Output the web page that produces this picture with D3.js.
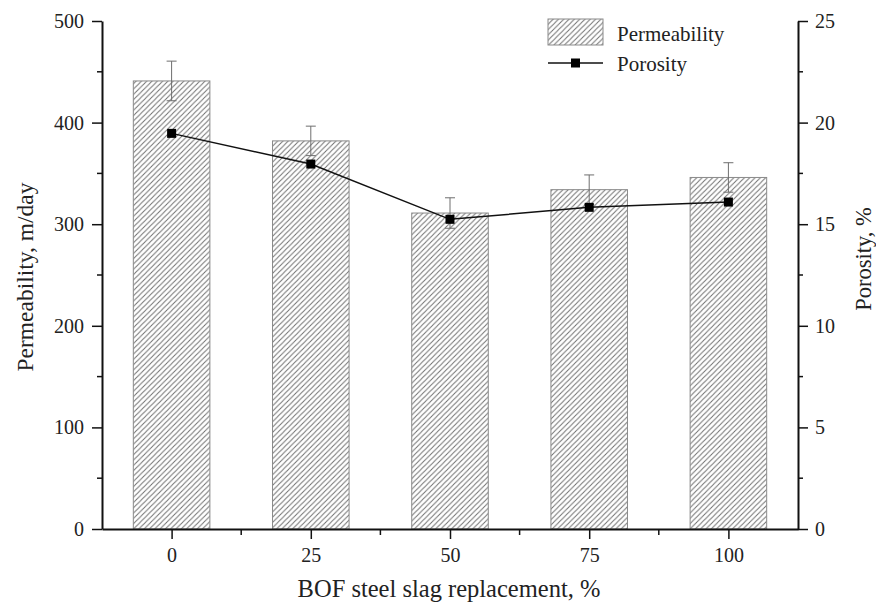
<!DOCTYPE html>
<html>
<head>
<meta charset="utf-8">
<script src="https://cdn.jsdelivr.net/npm/d3@7"></script>
<style>
  body { margin: 0; background: #fff; }
  svg text { font-family: "Liberation Serif", "Times New Roman", serif; fill: #222; }
</style>
</head>
<body>
<div id="chart"></div>
<script>
// data
var categories = [0, 25, 50, 75, 100];
var permeability = [441, 382, 311, 334, 346];
var permErr = [19.5, 14.5, 15, 14.5, 14.5];
var porosity = [19.47, 17.96, 15.24, 15.83, 16.09];
var leftTicks = [0, 100, 200, 300, 400, 500];
var rightTicks = [0, 5, 10, 15, 20, 25];

var width = 876, height = 603;
var plot = { left: 102, right: 798, top: 21, bottom: 529 };

var svg = d3.select("#chart").append("svg")
  .attr("width", width)
  .attr("height", height);

// hatch pattern
var defs = svg.append("defs");
defs.append("pattern")
  .attr("id", "hatch")
  .attr("patternUnits", "userSpaceOnUse")
  .attr("width", 5.3)
  .attr("height", 5.3)
  .append("path")
  .attr("d", "M0,5.3 L5.3,0 M-1.3,1.3 L1.3,-1.3 M4,6.6 L6.6,4")
  .attr("stroke", "#6f6f6f")
  .attr("stroke-width", 1);

var x = d3.scaleLinear().domain([-12.5, 112.5]).range([plot.left, plot.right]);
var yL = d3.scaleLinear().domain([0, 500]).range([plot.bottom, plot.top]);
var yR = d3.scaleLinear().domain([0, 25]).range([plot.bottom, plot.top]);

var barW = 0.55 * (x(25) - x(0));

var data = categories.map(function(c, i) {
  return { cat: c, perm: permeability[i], err: permErr[i], por: porosity[i] };
});

// bars
svg.selectAll("rect.bar")
  .data(data)
  .enter().append("rect")
  .attr("class", "bar")
  .attr("x", d => x(d.cat) - barW / 2)
  .attr("y", d => yL(d.perm))
  .attr("width", barW)
  .attr("height", d => yL(0) - yL(d.perm))
  .attr("fill", "url(#hatch)")
  .attr("stroke", "#8a8a8a")
  .attr("stroke-width", 1);

// error bars
var eb = svg.selectAll("g.err")
  .data(data)
  .enter().append("g")
  .attr("class", "err")
  .attr("stroke", "#6e6e6e")
  .attr("stroke-width", 1);
eb.append("line")
  .attr("x1", d => x(d.cat)).attr("x2", d => x(d.cat))
  .attr("y1", d => yL(d.perm + d.err)).attr("y2", d => yL(d.perm - d.err));
eb.append("line")
  .attr("x1", d => x(d.cat) - 5).attr("x2", d => x(d.cat) + 5)
  .attr("y1", d => yL(d.perm + d.err)).attr("y2", d => yL(d.perm + d.err));
eb.append("line")
  .attr("x1", d => x(d.cat) - 5).attr("x2", d => x(d.cat) + 5)
  .attr("y1", d => yL(d.perm - d.err)).attr("y2", d => yL(d.perm - d.err));

// porosity line
var line = d3.line().x(d => x(d.cat)).y(d => yR(d.por));
svg.append("path")
  .datum(data)
  .attr("d", line)
  .attr("fill", "none")
  .attr("stroke", "#111")
  .attr("stroke-width", 1.5);

svg.selectAll("rect.mk")
  .data(data)
  .enter().append("rect")
  .attr("class", "mk")
  .attr("x", d => x(d.cat) - 4.5)
  .attr("y", d => yR(d.por) - 4.5)
  .attr("width", 9)
  .attr("height", 9)
  .attr("fill", "#000");

// axes
function styleAxis(g) {
  g.select(".domain").attr("stroke", "#111").attr("stroke-width", 2);
  g.selectAll(".tick line").attr("stroke", "#111").attr("stroke-width", 1.5);
  g.selectAll(".tick text").attr("font-size", "20px").attr("fill", "#222");
}

var xAxis = svg.append("g")
  .attr("transform", "translate(0," + plot.bottom + ")")
  .call(d3.axisBottom(x).tickValues(categories).tickSize(10).tickSizeOuter(0).tickPadding(9));
styleAxis(xAxis);
xAxis.append("g").selectAll("line")
  .data([12.5, 37.5, 62.5, 87.5])
  .enter().append("line")
  .attr("x1", d => x(d)).attr("x2", d => x(d))
  .attr("y1", 0).attr("y2", 6)
  .attr("stroke", "#111").attr("stroke-width", 1.5);

var yAxisL = svg.append("g")
  .attr("transform", "translate(" + plot.left + ",0)")
  .call(d3.axisLeft(yL).tickValues(leftTicks).tickSize(10).tickSizeOuter(0).tickPadding(8));
styleAxis(yAxisL);
yAxisL.append("g").selectAll("line")
  .data(d3.range(50, 500, 100))
  .enter().append("line")
  .attr("x1", 0).attr("x2", -5)
  .attr("y1", d => yL(d)).attr("y2", d => yL(d))
  .attr("stroke", "#111").attr("stroke-width", 1.5);

var yAxisR = svg.append("g")
  .attr("transform", "translate(" + plot.right + ",0)")
  .call(d3.axisRight(yR).tickValues(rightTicks).tickSize(10).tickSizeOuter(0).tickPadding(7));
styleAxis(yAxisR);
yAxisR.append("g").selectAll("line")
  .data(d3.range(2.5, 25, 5))
  .enter().append("line")
  .attr("x1", 0).attr("x2", 5)
  .attr("y1", d => yR(d)).attr("y2", d => yR(d))
  .attr("stroke", "#111").attr("stroke-width", 1.5);

// axis titles
svg.append("text")
  .attr("x", 449)
  .attr("y", 597)
  .attr("text-anchor", "middle")
  .attr("font-size", "24.5px")
  .text("BOF steel slag replacement, %");

svg.append("text")
  .attr("transform", "translate(33,277) rotate(-90)")
  .attr("text-anchor", "middle")
  .attr("font-size", "23.5px")
  .text("Permeability, m/day");

svg.append("text")
  .attr("transform", "translate(871,259) rotate(-90)")
  .attr("text-anchor", "middle")
  .attr("font-size", "22.5px")
  .text("Porosity, %");

// legend
var lg = svg.append("g");
lg.append("rect")
  .attr("x", 548).attr("y", 19).attr("width", 55).attr("height", 26)
  .attr("fill", "url(#hatch)").attr("stroke", "#8a8a8a").attr("stroke-width", 1);
lg.append("text").attr("x", 617).attr("y", 41).attr("font-size", "21px").text("Permeability");
lg.append("line")
  .attr("x1", 548).attr("x2", 603).attr("y1", 63).attr("y2", 63)
  .attr("stroke", "#111").attr("stroke-width", 1.5);
lg.append("rect")
  .attr("x", 571).attr("y", 58.5).attr("width", 9).attr("height", 9).attr("fill", "#000");
lg.append("text").attr("x", 617).attr("y", 71).attr("font-size", "21px").text("Porosity");
</script>
</body>
</html>
